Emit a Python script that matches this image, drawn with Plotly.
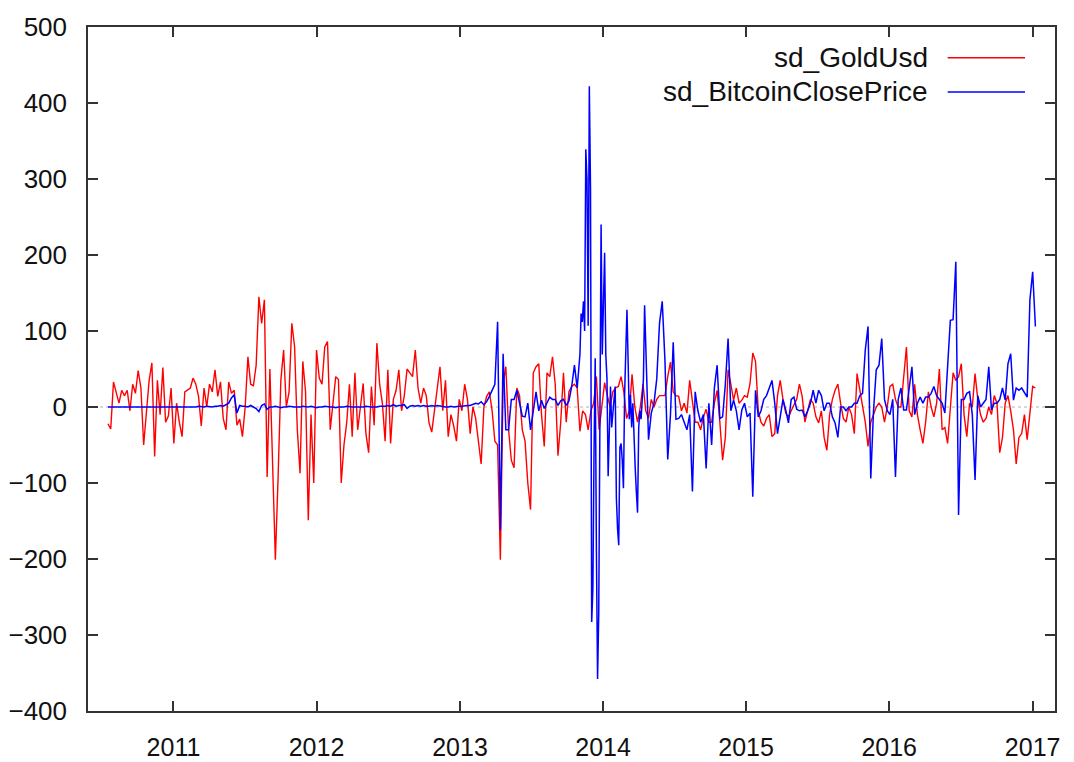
import pandas as pd
import plotly.graph_objects as go

# Weekly sampling grid shared by both series
weeks = pd.date_range("2010-07-18", periods=339, freq="7D")

# Standard deviation of the gold price (USD), one value per week
gold_usd = [
    -22, -29, 33, 20, 5, 22, 15, 22, -5, 30,
    18, 48, 25, -50, -8, 35, 58, -65, 35, -10,
    52, -20, -12, 25, -48, 5, -20, -39, 20, 22,
    25, 38, 30, 14, -25, 25, 0, 30, 20, 49,
    14, 33, -15, -30, 33, 18, 22, -24, -16, -39,
    0, 66, 30, 28, 55, 145, 110, 141, -92, 50,
    -70, -201, -92, 35, 75, 0, 20, 110, 80, -30,
    -87, 60, 20, -149, -10, -100, 75, 38, 30, 79,
    86, -30, 5, 40, 36, -100, -50, -21, 30, -39,
    45, -30, 0, 31, -35, -60, 27, -24, 84, 30,
    5, -45, 49, -48, 10, 22, 49, -5, 15, 50,
    45, 40, 75, 25, 5, 25, 15, -21, -33, -5,
    18, 53, -5, 35, -39, -10, -25, -45, 10, -5,
    30, 10, -35, 0, -15, -43, -75, 0, 14, 20,
    -5, -45, -50, -201, 30, 53, -30, -70, -80, 25,
    15, -30, -45, -100, -135, 45, 53, 57, -10, -52,
    45, 40, 66, 30, -64, -20, 45, -20, 20, 27,
    30, 25, -32, -5, -10, -30, -5, 5, 40, -30,
    5, 32, 15, 0, 20, 25, 27, 40, 20, -15,
    -5, 43, 0, -20, 0, 30, -5, -15, 10, 0,
    10, 15, 15, 15, 40, 59, 20, 15, 14, -5,
    5, -8, 35, 5, -20, -20, -30, -13, -3, -20,
    -20, 5, 22, -20, -70, -40, 49, 30, 9, 25,
    5, 9, 15, 13, 31, 71, 60, -5, -20, -25,
    -15, -10, -39, -35, 15, 35, 10, -8, -13, -5,
    3, 10, 30, 14, -20, -5, 10, 5, -13, -21,
    -5, -40, -57, -10, 10, 22, 30, 5, -15, -20,
    0, -10, -35, 44, 22, 5, -20, -52, -20, -10,
    0, 5, 0, -20, 0, 27, 30, 10, 0, 0,
    44, 79, -5, -13, 30, -10, -30, -48, -20, 20,
    0, -13, 5, 50, -30, -27, -48, 0, 45, 35,
    40, 57, -10, -39, 5, 0, 44, 10, -10, -20,
    -15, 0, -10, 15, 5, -60, -40, 5, 15, -5,
    -30, -75, -40, -35, -10, -43, -10, 27, 25,
]

# Standard deviation of the Bitcoin close price: weekly values up to week 171
btc_weekly_a = [
    0, 0, 0, 0, 0, 0, 0, 0, 0, 0,
    0, 0, 0, 0, 0, 0, 0, 0, 0, 0,
    0, 0, 0, 0, 0, 0, 0, 0, 0, 0,
    0, 0, 0, 1, 0, 0, 1, 0, 0, 1,
    1, 2, 1, 3, 5, 12, 16, -8, 2, 1,
    1, 0, 2, 0, -2, -6, 2, 4, -3, 0,
    0, 1, 0, -1, 0, 0, 1, 0, 0, 0,
    0, 1, 0, 0, 1, 0, -1, 0, 0, 1,
    0, 0, 0, -1, 0, 0, 0, 1, 0, 0,
    0, 0, 0, 0, 1, 0, 0, 0, 0, 1,
    1, 1, 2, 1, 3, 1, 2, 2, 3, -2,
    1, 2, 1, 2, 1, 2, 1, 1, 2, 1,
    2, 1, 1, 0, 0, 1, 0, 1, 1, 1,
    2, 2, 2, 3, 5, 4, 7, 3, 7, 14,
    22, 30, 112, -162, 70, -30, -30, 10, 10, 22,
    5, -12, -13, 5, -30, -5, 20, -5, 9, -2,
    5, 13, 10, 10, 2, 8, 10, 2, 8, 27,
    55, 25,
]

# Every third day through the late-2013 / early-2014 swings (weeks 172 to 196)
btc_dense = [
    69, 123, 112, 139, 100, 339, 300, 107, 422, 288,
    -283, -240, -59, 64, -187, -358, -272, 100, 240, 69,
    139, 203, 69, 37, -91, -16, 27, -27, 0, 10,
    27, -120, -160, -182, -53, -48, -70, -107, 16, 70,
    128, 60, -16, 16, -27, 5, -53, -80, -112, -139,
    -27, -5, -16, 10, 37, 134, 80,
]

# Weekly values again from week 197 to the end
btc_weekly_b = [
    -43, -8, 5, 37, 110, 139, 60, -69, -10, 85,
    -16, -15, -10, -20, -30, -10, -111, 20, -5, -20,
    -10, -81, 5, -50, 25, 55, -15, -13, 30, 90,
    -5, 9, -5, -30, -4, 5, -13, -8, -118, 22,
    -13, -5, 10, 15, 25, 35, 5, -35, -13, 10,
    -4, -21, 10, 13, -3, -5, -4, -13, -5, 5,
    22, 5, 22, 15, -5, 5, 5, -13, -21, -40,
    0, 0, -5, 0, 0, 5, 5, 15, 18, 75,
    106, -94, -5, 49, 55, 90, 10, -5, -10, 10,
    -92, 10, 25, -4, -4, 25, 53, -10, 5, 13,
    5, 13, 13, 18, 27, 15, 10, 5, -8, 50,
    114, 115, 191, -142, 10, 10, 18, 20, -10, -96,
    15, 0, 5, 10, 53, -4, 5, 5, 10, 25,
    9, 57, 70, 9, 25, 22, 25, 18, 13, 141,
    178, 106,
]

dense_dates = pd.date_range(weeks[172], periods=len(btc_dense), freq="3D")
btc_dates = list(weeks[:172]) + list(dense_dates) + list(weeks[197:])
btc_vals = btc_weekly_a + btc_dense + btc_weekly_b

series_names = ["sd_GoldUsd", "sd_BitcoinClosePrice"]
series_colors = ["#ff0000", "#0000ff"]

FONT = "Liberation Sans, Arial, sans-serif"

fig = go.Figure()
fig.add_trace(go.Scatter(
    x=weeks, y=gold_usd, mode="lines", name=series_names[0],
    line=dict(color=series_colors[0], width=1.4), showlegend=False,
))
fig.add_trace(go.Scatter(
    x=btc_dates, y=btc_vals, mode="lines", name=series_names[1],
    line=dict(color=series_colors[1], width=1.5), showlegend=False,
))

# Dotted zero axis behind the data
fig.add_shape(type="line", xref="paper", x0=0, x1=1, yref="y", y0=0, y1=0,
              line=dict(color="#b0b0b0", width=1, dash="dot"), layer="below")

# Key in the top-right corner: label on the left, line sample on the right
key_y = [0.955, 0.905]
for name, color, ky in zip(series_names, series_colors, key_y):
    fig.add_annotation(xref="paper", yref="paper", x=0.871, y=ky, text=name,
                       showarrow=False, xanchor="right", yanchor="middle",
                       font=dict(family=FONT, size=28, color="#111"))
    fig.add_shape(type="line", xref="paper", yref="paper", x0=0.889, x1=0.969,
                  y0=ky, y1=ky, line=dict(color=color, width=1.5))

axis_common = dict(
    ticks="inside", ticklen=10, tickwidth=1.5, tickcolor="#333",
    showline=True, linecolor="#333", linewidth=1.5, mirror="ticks",
    showgrid=False, zeroline=False, automargin=False,
)

fig.update_layout(
    width=1074, height=762,
    margin=dict(l=88, r=19, t=27, b=51),
    paper_bgcolor="white", plot_bgcolor="white",
    xaxis=dict(type="date", range=["2010-05-28", "2017-02-27"],
               tick0="2011-01-01", dtick="M12", tickformat="%Y",
               ticklabelstandoff=13,
               tickfont=dict(family=FONT, size=25, color="#111"),
               **axis_common),
    yaxis=dict(range=[-400, 500], dtick=100, tick0=0,
               ticklabelstandoff=14,
               tickfont=dict(family=FONT, size=26, color="#111"),
               **axis_common),
)

fig.write_html("out.html")
